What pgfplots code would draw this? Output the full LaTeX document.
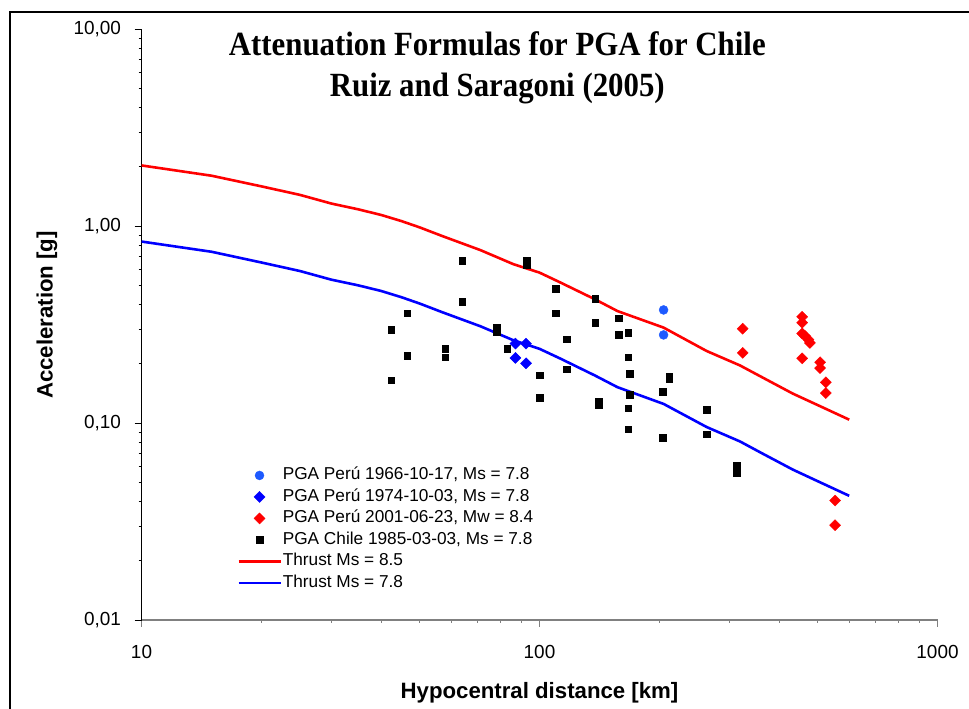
\documentclass[border=0pt]{standalone}
\usepackage{fontspec}
\setmainfont{Liberation Sans}
\newfontfamily\titlefont{Liberation Serif}
\usepackage{graphicx}
\usepackage{pgfplots}
\pgfplotsset{compat=1.18}
\definecolor{pgablue}{RGB}{0,0,255}
\definecolor{pgared}{RGB}{255,0,0}
\definecolor{circblue}{RGB}{30,90,255}
\definecolor{axgray}{RGB}{128,128,128}
\pgfplotsset{
  lineleg/.style={legend image code/.code={\draw[##1] (0bp,0bp) -- (42bp,0bp);}},
  markleg/.style={legend image code/.code={\draw[##1] plot coordinates {(21bp,0bp)};}},
}
\begin{document}
\begin{tikzpicture}
\path[use as bounding box] (0bp,0bp) rectangle (969bp,709bp);
\draw[line width=1.2bp] (10bp,0bp) -- (10bp,697bp) -- (969bp,697bp);
\begin{axis}[
  at={(141.5bp,89bp)}, anchor=south west,
  scale only axis, width=796bp, height=591bp,
  xmode=log, ymode=log,
  xmin=10, xmax=1000, ymin=0.01, ymax=10,
  axis x line*=bottom, axis y line*=left,
  x axis line style={-, draw=axgray, line width=1.2bp},
  y axis line style={-, draw=black, line width=1.2bp},
  xtick={10,100,1000}, xticklabels={10,100,1000},
  ytick={0.01,0.1,1,10}, yticklabels={{0,01},{0,10},{1,00},{10,00}},
  minor tick style={draw=none},
  tick align=outside, major tick length=7bp,
  xtick style={draw=axgray, line width=1bp},
  ytick style={draw=black, line width=1bp},
  tick label style={font=\fontsize{19}{22}\selectfont},
  yticklabel style={xshift=-10bp},
  xticklabel style={yshift=-15bp},
  xlabel={Hypocentral distance [km]},
  ylabel={Acceleration [g]},
  label style={font=\bfseries\fontsize{22.3}{26}\selectfont},
  xlabel style={at={(axis description cs:0.5,-0.123)}, anchor=center},
  ylabel style={at={(axis description cs:-0.1187,0.516)}, anchor=center},
  title={\scalebox{0.91}[1]{Attenuation Formulas for PGA for Chile}\\\scalebox{0.91}[1]{Ruiz and Saragoni (2005)}},
  title style={font=\titlefont\bfseries\fontsize{34}{41}\selectfont, align=center,
    at={(axis description cs:0.447,0.9245)}, anchor=center},
  legend style={at={(axis description cs:0.12,0.261)}, anchor=north west,
    draw=none, fill=none, inner sep=0pt, row sep=2.5bp,
    font=\fontsize{17.3}{20}\selectfont,
    nodes={inner sep=1bp, text height=13bp, text depth=4bp}},
  legend cell align=left,
]

% PGA Peru 1966-10-17
\addplot[only marks, mark=*, mark size=4.5bp, color=circblue, markleg] coordinates {
  (205,0.375) (205,0.280)
};
\addlegendentry{PGA Perú 1966-10-17, Ms = 7.8}

% PGA Peru 1974-10-03
\addplot[only marks, mark=square*, mark size=3.9bp, mark options={rotate=45}, color=pgablue, markleg] coordinates {
  (87,0.253) (92.5,0.253) (87,0.214) (92.5,0.201)
};
\addlegendentry{PGA Perú 1974-10-03, Ms = 7.8}

% PGA Peru 2001-06-23
\addplot[only marks, mark=square*, mark size=3.9bp, mark options={rotate=45}, color=pgared, markleg] coordinates {
  (324,0.301) (324,0.227) (457,0.346) (457,0.323) (457,0.285) (465,0.276)
  (474,0.265) (478,0.255) (457,0.213) (507,0.2035) (507,0.190) (524,0.161)
  (524,0.142) (553,0.0404) (553,0.0303)
};
\addlegendentry{PGA Perú 2001-06-23, Mw  = 8.4}

% PGA Chile 1985-03-03
\addplot[only marks, mark=square*, mark size=3.3bp, color=black, markleg] coordinates {
  (64,0.668) (93,0.671) (93,0.638) (110,0.482) (110,0.361) (64,0.412)
  (46.5,0.361) (42.4,0.298) (46.5,0.220) (42.4,0.165) (58,0.238) (58,0.216)
  (78,0.304) (78,0.290) (83,0.238) (100,0.175) (100,0.134) (138,0.428)
  (138,0.323) (117,0.266) (117,0.188) (158,0.340) (158,0.281) (167,0.287)
  (167,0.216) (168.5,0.178) (168.5,0.139) (167,0.119) (167,0.093) (141,0.129)
  (141,0.123) (212,0.172) (212,0.168) (204,0.144) (204,0.0844) (263,0.117)
  (263,0.0877) (313,0.0608) (313,0.0561)
};
\addlegendentry{PGA Chile 1985-03-03, Ms = 7.8}

% Thrust Ms = 8.5
\addplot[color=pgared, line width=2.6bp, mark=none, lineleg] coordinates {
  (10,2.03) (15,1.80) (20,1.59) (25,1.439) (30,1.30) (35,1.216) (40,1.138)
  (45,1.059) (50,0.984) (57,0.889) (71,0.755) (86,0.64) (100,0.58) (113,0.516)
  (138,0.424) (157,0.37) (205,0.305) (263,0.232) (319,0.196) (358,0.173)
  (433,0.141) (507,0.1217) (600,0.104)
};
\addlegendentry{Thrust Ms = 8.5}

% Thrust Ms = 7.8
\addplot[color=pgablue, line width=2.6bp, mark=none, lineleg] coordinates {
  (10,0.834) (15,0.740) (20,0.653) (25,0.591) (30,0.534) (35,0.500) (40,0.468)
  (45,0.435) (50,0.404) (57,0.365) (71,0.310) (86,0.263) (100,0.238) (113,0.212)
  (138,0.174) (157,0.152) (205,0.125) (263,0.0954) (319,0.0806) (358,0.0711)
  (433,0.0580) (507,0.0500) (600,0.0427)
};
\addlegendentry{Thrust Ms = 7.8}

\end{axis}
\end{tikzpicture}
\end{document}
